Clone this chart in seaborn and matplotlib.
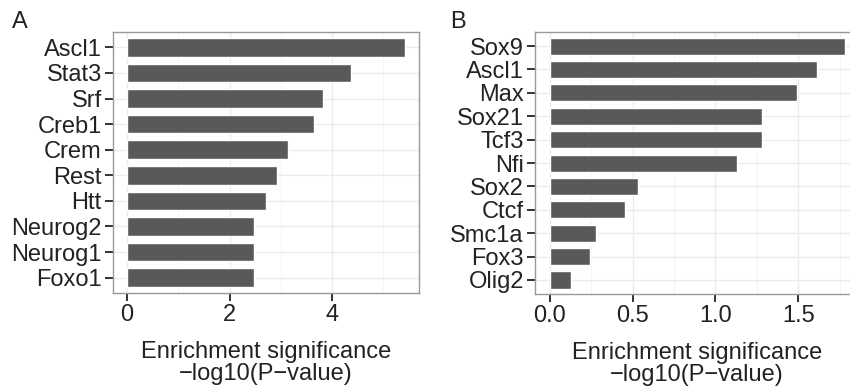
import pandas as pd
import matplotlib.pyplot as plt
import seaborn as sns
from matplotlib.ticker import MultipleLocator

# Panel A data
genes_a = ["Ascl1", "Stat3", "Srf", "Creb1", "Crem", "Rest", "Htt", "Neurog2", "Neurog1", "Foxo1"]
score_a = [5.42, 4.37, 3.83, 3.64, 3.13, 2.92, 2.71, 2.47, 2.47, 2.47]

# Panel B data
genes_b = ["Sox9", "Ascl1", "Max", "Sox21", "Tcf3", "Nfi", "Sox2", "Ctcf", "Smc1a", "Fox3", "Olig2"]
score_b = [1.78, 1.61, 1.49, 1.28, 1.28, 1.13, 0.53, 0.455, 0.28, 0.245, 0.128]

ticks_a = [0, 2, 4]
ticks_b = [0.0, 0.5, 1.0, 1.5]

sns.set_theme(style="white")
plt.rcParams["font.family"] = ["Liberation Sans", "DejaVu Sans"]

bar_color = "#58595B"
text_color = "#222222"
fs = 17

fig = plt.figure(figsize=(8.5, 3.91), dpi=100)
ax_a = fig.add_axes([0.1329, 0.2506, 0.36, 0.6675])
ax_b = fig.add_axes([0.6294, 0.248, 0.3817, 0.670])


def draw_panel(ax, genes, scores, ticks, xmax, minor, letter, lx):
    df = pd.DataFrame({"gene": genes, "score": scores})
    sns.barplot(data=df, x="score", y="gene", color=bar_color, width=0.73,
                saturation=1, ax=ax, zorder=3)
    n = len(genes)
    pad = xmax * 0.05
    ax.set_xlim(-pad, xmax + pad)
    ax.set_ylim(n - 0.4, -0.6)
    ax.set_xticks(ticks)
    ax.set_xticklabels([f"{t:g}" if isinstance(t, int) else f"{t:.1f}" for t in ticks])
    ax.xaxis.set_minor_locator(MultipleLocator(minor))
    ax.set_axisbelow(True)
    ax.grid(True, which="major", color="#EBEBEB", linewidth=1.0, zorder=0)
    ax.grid(True, which="minor", axis="x", color="#F3F3F3", linewidth=0.6, zorder=0)
    for s in ax.spines.values():
        s.set_color("#999999")
        s.set_linewidth(1.0)
    ax.tick_params(axis="both", which="major", length=6, width=1.3, color="#222222",
                   labelsize=fs, labelcolor=text_color, pad=2, left=True, bottom=True)
    ax.tick_params(axis="x", which="minor", length=0)
    ax.set_ylabel("")
    ax.set_xlabel("Enrichment significance\n\u2212log10(P\u2212value)", fontsize=fs,
                  color=text_color, labelpad=11, linespacing=1.0)
    fig.text(lx, 0.943, letter, fontsize=fs, color=text_color, ha="left", va="center")


draw_panel(ax_a, genes_a, score_a, ticks_a, max(score_a), 1, "A", 0.014)
draw_panel(ax_b, genes_b, score_b, ticks_b, max(score_b), 0.25, "B", 0.529)

fig.savefig("out.png", dpi=100)
